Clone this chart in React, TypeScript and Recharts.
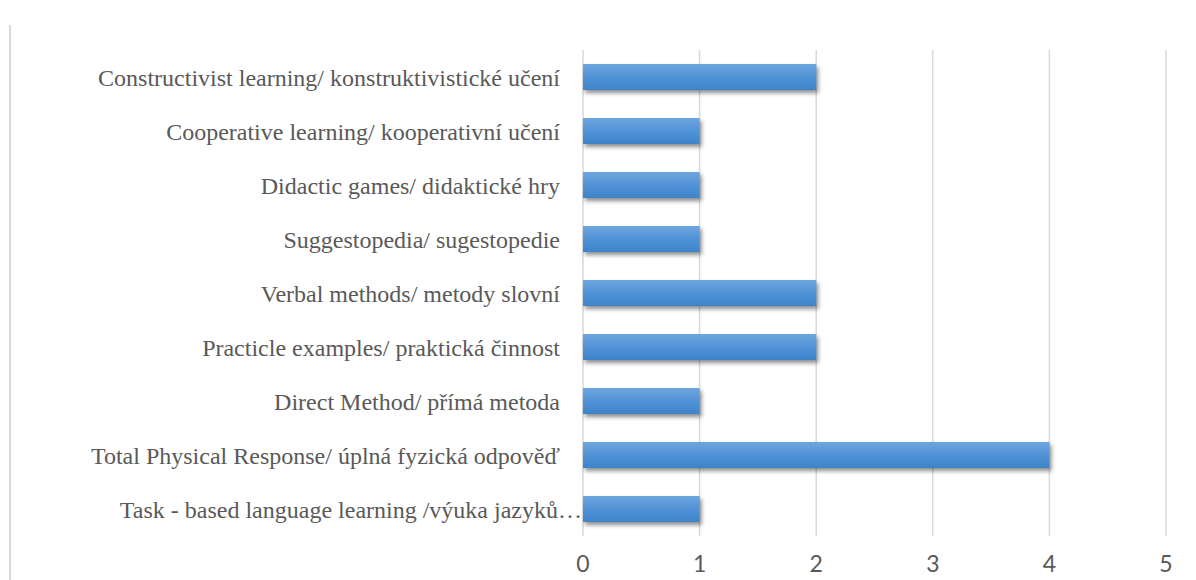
import React from 'react';
import { BarChart, Bar, XAxis, YAxis, CartesianGrid } from 'recharts';

const methods = [
  'Constructivist learning/ konstruktivistické učení',
  'Cooperative learning/ kooperativní učení',
  'Didactic games/ didaktické hry',
  'Suggestopedia/ sugestopedie',
  'Verbal methods/ metody slovní',
  'Practicle examples/ praktická činnost',
  'Direct Method/ přímá metoda',
  'Total Physical Response/ úplná fyzická odpověď',
  'Task - based language learning /výuka jazyků…',
];

const counts = [2, 1, 1, 1, 2, 2, 1, 4, 1];

const xTicks = [0, 1, 2, 3, 4, 5];

const data = methods.map((name, i) => ({ name, value: counts[i] }));

const serif = "'Liberation Serif', 'Times New Roman', serif";
const sans = "Lato, 'Open Sans', sans-serif";

// category label; the truncated one runs up to the bar like in the original
const CategoryTick = ({ x, y, payload }: any) => {
  const label: string = payload.value;
  const shift = label.endsWith('…') ? 22 : 0;
  return (
    <text
      x={x + shift}
      y={y}
      dy="0.355em"
      textAnchor="end"
      fill="#595959"
      fontSize={24}
      style={{ fontFamily: serif }}
    >
      {label}
    </text>
  );
};

const App: React.FC = () => {
  return (
    <div style={{ position: 'fixed', left: 0, top: 0, width: 1196, height: 580, background: '#fff' }}>
      {/* light frame line on the left edge */}
      <div style={{ position: 'absolute', left: 9, top: 25, width: 2, height: 555, background: '#d9d9d9' }} />
      <BarChart
        width={1196}
        height={580}
        data={data}
        layout="vertical"
        margin={{ top: 50, right: 30, left: 0, bottom: 0 }}
      >
        <defs>
          <linearGradient id="barFill" x1="0" y1="0" x2="0" y2="1">
            <stop offset="0%" stopColor="#6ea6de" />
            <stop offset="55%" stopColor="#4f91d6" />
            <stop offset="100%" stopColor="#3d83c9" />
          </linearGradient>
          <filter id="barShadow" x="-5%" y="-20%" width="115%" height="170%">
            <feDropShadow dx="2" dy="3" stdDeviation="2.2" floodColor="#000" floodOpacity="0.45" />
          </filter>
        </defs>
        <CartesianGrid horizontal={false} stroke="#d9d9d9" strokeWidth={1.5} />
        <XAxis
          type="number"
          domain={[0, 5]}
          ticks={xTicks}
          axisLine={false}
          tickLine={false}
          tickMargin={14}
          height={44}
          tick={{ fill: '#595959', fontSize: 23, style: { fontFamily: sans } }}
        />
        <YAxis
          type="category"
          dataKey="name"
          width={583}
          axisLine={false}
          tickLine={false}
          tickMargin={17}
          interval={0}
          tick={<CategoryTick />}
        />
        <Bar
          dataKey="value"
          fill="url(#barFill)"
          barSize={26}
          filter="url(#barShadow)"
          isAnimationActive={false}
        />
      </BarChart>
    </div>
  );
};

export default App;
